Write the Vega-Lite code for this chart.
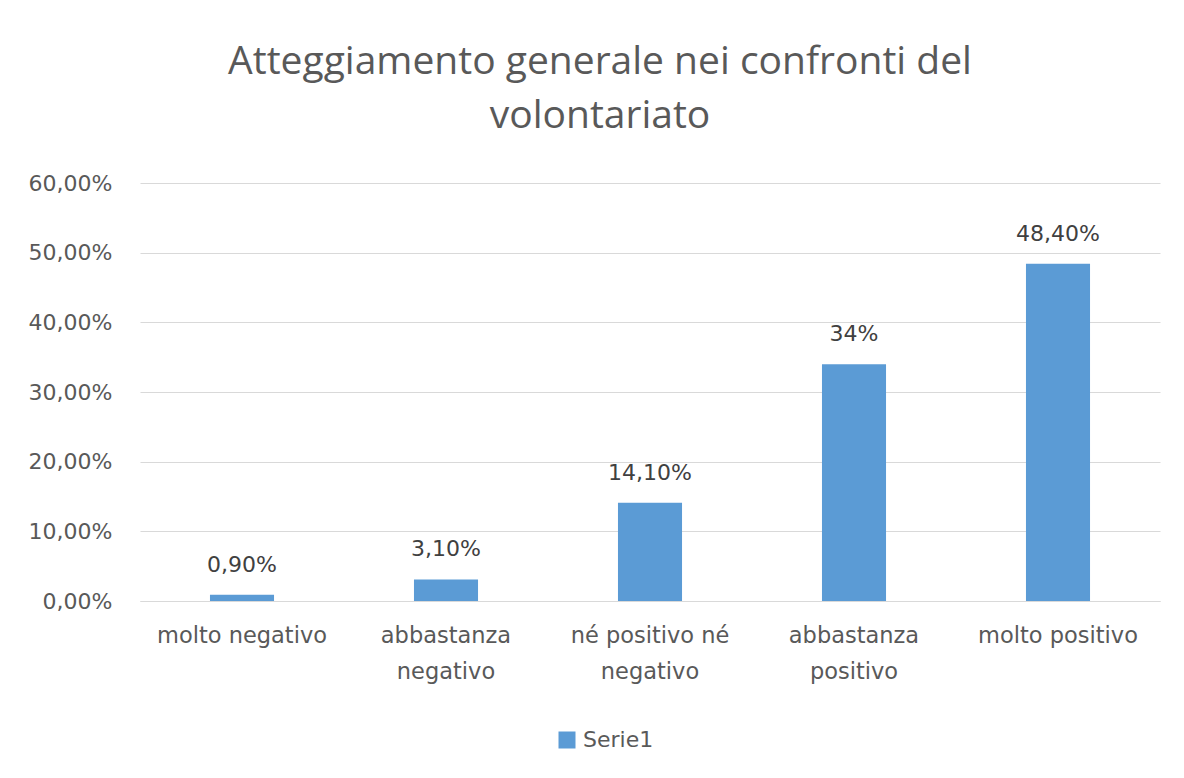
{
  "$schema": "https://vega.github.io/schema/vega-lite/v6.json",
  "autosize": "none",
  "width": 1020,
  "height": 418,
  "padding": {"left": 140, "top": 183, "right": 24, "bottom": 177},
  "background": "white",
  "title": {
    "text": ["Atteggiamento generale nei confronti del", "volontariato"],
    "anchor": "middle",
    "dx": -50,
    "offset": 36,
    "font": "Open Sans",
    "fontSize": 39,
    "fontWeight": "normal",
    "color": "#595959",
    "lineHeight": 54
  },
  "data": {
    "values": [
      {"categoria": "molto negativo", "valore": 0.009, "etichetta": "0,90%", "serie": "Serie1"},
      {"categoria": "abbastanza negativo", "valore": 0.031, "etichetta": "3,10%", "serie": "Serie1"},
      {"categoria": "né positivo né negativo", "valore": 0.141, "etichetta": "14,10%", "serie": "Serie1"},
      {"categoria": "abbastanza positivo", "valore": 0.34, "etichetta": "34%", "serie": "Serie1"},
      {"categoria": "molto positivo", "valore": 0.484, "etichetta": "48,40%", "serie": "Serie1"}
    ]
  },
  "encoding": {
    "x": {
      "field": "categoria",
      "type": "nominal",
      "sort": null,
      "scale": {"paddingInner": 0.686, "paddingOuter": 0.343},
      "axis": {
        "title": null,
        "labelAngle": 0,
        "ticks": false,
        "domain": true,
        "domainColor": "#D9D9D9",
        "labelFont": "DejaVu Sans",
        "labelFontSize": 22.5,
        "labelColor": "#595959",
        "labelPadding": 23,
        "labelLineHeight": 36,
        "labelBaseline": "top",
        "labelExpr": "datum.label == 'né positivo né negativo' ? ['né positivo né', 'negativo'] : (indexof(datum.label, 'abbastanza') == 0 ? split(datum.label, ' ') : datum.label)"
      }
    },
    "y": {
      "field": "valore",
      "type": "quantitative",
      "scale": {"domain": [0, 0.6], "nice": false},
      "axis": {
        "title": null,
        "values": [0, 0.1, 0.2, 0.3, 0.4, 0.5, 0.6],
        "domain": false,
        "ticks": false,
        "gridColor": "#D9D9D9",
        "gridWidth": 1,
        "labelFont": "DejaVu Sans",
        "labelFontSize": 22,
        "labelColor": "#595959",
        "labelPadding": 28,
        "labelExpr": "replace(format(datum.value, '.2%'), '.', ',')"
      }
    }
  },
  "layer": [
    {
      "mark": {"type": "bar"},
      "encoding": {
        "color": {
          "field": "serie",
          "type": "nominal",
          "scale": {"range": ["#5B9BD5"]},
          "legend": {
            "title": null,
            "orient": "none",
            "legendX": 416,
            "legendY": 546,
            "symbolType": "square",
            "symbolSize": 289,
            "labelFont": "DejaVu Sans",
            "labelFontSize": 22,
            "labelColor": "#595959",
            "labelOffset": 5
          }
        }
      }
    },
    {
      "mark": {"type": "text", "baseline": "alphabetic", "dy": -23, "font": "DejaVu Sans", "fontSize": 22, "color": "#404040"},
      "encoding": {"text": {"field": "etichetta"}}
    }
  ],
  "config": {"view": {"stroke": null}}
}
